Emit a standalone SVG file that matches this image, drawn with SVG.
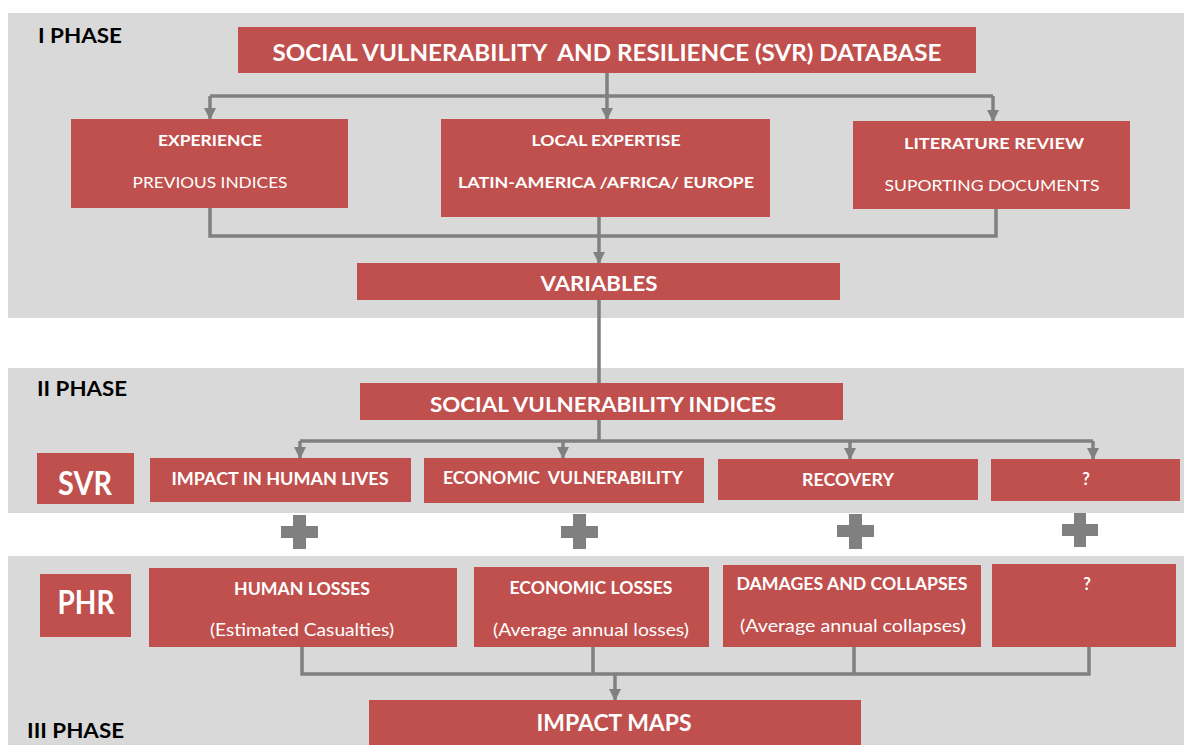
<svg xmlns="http://www.w3.org/2000/svg" width="1184" height="745" viewBox="0 0 1184 745">
<style>
.band{fill:#d9d9d9}
.box{fill:#c0504d}
.t{font-family:Lato,"Open Sans","Liberation Sans",sans-serif;fill:#ffffff;text-anchor:middle;white-space:pre}
.b{font-weight:bold}
.ph{font-family:Lato,"Open Sans","Liberation Sans",sans-serif;font-weight:bold;fill:#000000;font-size:21px}
.c{fill:none;stroke:#808080;stroke-width:3.5}
.plus{fill:#808080}
</style>
<defs>
<marker id="ad" markerUnits="userSpaceOnUse" markerWidth="12" markerHeight="12" viewBox="0 0 12 12" refX="11" refY="6" orient="auto">
<path d="M0,0 L12,6 L0,12 Z" fill="#808080"/>
</marker>
</defs>
<rect class="band" x="8" y="13" width="1176" height="305"/>
<rect class="band" x="8" y="368" width="1176" height="145"/>
<rect class="band" x="8" y="556" width="1176" height="189"/>
<text class="ph" x="38" y="43" textLength="84" lengthAdjust="spacingAndGlyphs">I PHASE</text>
<text class="ph" x="37" y="396" textLength="90" lengthAdjust="spacingAndGlyphs">II PHASE</text>
<text class="ph" x="27" y="738" textLength="97" lengthAdjust="spacingAndGlyphs">III PHASE</text>
<g id="connectors">
<path class="c" d="M607,73 V96 M210,96 H993"/>
<path class="c" d="M210,96 V119" marker-end="url(#ad)"/>
<path class="c" d="M607,96 V119" marker-end="url(#ad)"/>
<path class="c" d="M993,96 V121" marker-end="url(#ad)"/>
<path class="c" d="M210,208 V236 H996 V209"/>
<path class="c" d="M599,217 V263" marker-end="url(#ad)"/>
<path class="c" d="M599,300 V441 M300,441 H1093"/>
<path class="c" d="M300,441 V458" marker-end="url(#ad)"/>
<path class="c" d="M563,441 V458" marker-end="url(#ad)"/>
<path class="c" d="M850,441 V459" marker-end="url(#ad)"/>
<path class="c" d="M1093,441 V459" marker-end="url(#ad)"/>
<path class="c" d="M302,647 V674 H1089 V647 M593,647 V674 M854,647 V674"/>
<path class="c" d="M615,674 V700" marker-end="url(#ad)"/>
</g>
<g id="n-title"><rect class="box" x="238" y="27" width="738" height="46"/><text class="t b" x="607" y="61" font-size="23" textLength="669" lengthAdjust="spacingAndGlyphs" xml:space="preserve">SOCIAL VULNERABILITY  AND RESILIENCE (SVR) DATABASE</text></g>
<g id="n-experience"><rect class="box" x="71" y="119" width="277" height="89"/><text class="t b" x="210" y="146" font-size="16" textLength="104" lengthAdjust="spacingAndGlyphs">EXPERIENCE</text><text class="t" x="210" y="188" font-size="16" textLength="155" lengthAdjust="spacingAndGlyphs">PREVIOUS INDICES</text></g>
<g id="n-local"><rect class="box" x="441" y="119" width="329" height="98"/><text class="t b" x="606" y="146" font-size="16" textLength="149" lengthAdjust="spacingAndGlyphs">LOCAL EXPERTISE</text><text class="t b" x="606" y="188" font-size="16" textLength="296" lengthAdjust="spacingAndGlyphs">LATIN-AMERICA /AFRICA/ EUROPE</text></g>
<g id="n-literature"><rect class="box" x="853" y="121" width="277" height="88"/><text class="t b" x="994" y="149" font-size="16" textLength="180" lengthAdjust="spacingAndGlyphs">LITERATURE REVIEW</text><text class="t" x="992" y="191" font-size="16" textLength="215" lengthAdjust="spacingAndGlyphs">SUPORTING DOCUMENTS</text></g>
<g id="n-variables"><rect class="box" x="357" y="263" width="483" height="37"/><text class="t b" x="599" y="291" font-size="21" textLength="117" lengthAdjust="spacingAndGlyphs">VARIABLES</text></g>
<g id="n-svi"><rect class="box" x="360" y="383" width="483" height="37"/><text class="t b" x="603" y="412" font-size="21" textLength="346" lengthAdjust="spacingAndGlyphs">SOCIAL VULNERABILITY INDICES</text></g>
<g id="n-svr"><rect class="box" x="37" y="453" width="97" height="51"/><text class="t b" x="85" y="495" font-size="32" textLength="54" lengthAdjust="spacingAndGlyphs">SVR</text></g>
<g id="n-impact-lives"><rect class="box" x="150" y="458" width="261" height="44"/><text class="t b" x="280" y="485" font-size="16.5" textLength="217" lengthAdjust="spacingAndGlyphs">IMPACT IN HUMAN LIVES</text></g>
<g id="n-econ-vuln"><rect class="box" x="424" y="458" width="280" height="45"/><text class="t b" x="563" y="484" font-size="16.5" textLength="240" lengthAdjust="spacingAndGlyphs" xml:space="preserve">ECONOMIC  VULNERABILITY</text></g>
<g id="n-recovery"><rect class="box" x="718" y="459" width="260" height="41"/><text class="t b" x="848" y="486" font-size="16.5" textLength="92" lengthAdjust="spacingAndGlyphs">RECOVERY</text></g>
<g id="n-q1"><rect class="box" x="991" y="459" width="189" height="42"/><text class="t b" x="1086" y="485" font-size="16.5">?</text></g>
<g id="plus">
<rect class="plus" x="281" y="526" width="37" height="12"/><rect class="plus" x="293" y="515" width="13" height="34"/>
<rect class="plus" x="561" y="526" width="37" height="12"/><rect class="plus" x="573" y="514" width="13" height="35"/>
<rect class="plus" x="837" y="525" width="37" height="12"/><rect class="plus" x="849" y="514" width="13" height="35"/>
<rect class="plus" x="1062" y="524" width="36" height="12"/><rect class="plus" x="1074" y="513" width="12" height="34"/>
</g>
<g id="n-phr"><rect class="box" x="40" y="574" width="91" height="63"/><text class="t b" x="86" y="614" font-size="32" textLength="57" lengthAdjust="spacingAndGlyphs">PHR</text></g>
<g id="n-human-losses"><rect class="box" x="149" y="568" width="308" height="79"/><text class="t b" x="302" y="595" font-size="16.5" textLength="136" lengthAdjust="spacingAndGlyphs">HUMAN LOSSES</text><text class="t" x="302" y="636" font-size="17" textLength="184" lengthAdjust="spacingAndGlyphs">(Estimated Casualties)</text></g>
<g id="n-econ-losses"><rect class="box" x="474" y="567" width="235" height="80"/><text class="t b" x="591" y="594" font-size="16.5" textLength="163" lengthAdjust="spacingAndGlyphs">ECONOMIC LOSSES</text><text class="t" x="591" y="636" font-size="17" textLength="196" lengthAdjust="spacingAndGlyphs">(Average annual losses)</text></g>
<g id="n-damages"><rect class="box" x="723" y="565" width="258" height="82"/><text class="t b" x="852" y="590" font-size="16.5" textLength="231" lengthAdjust="spacingAndGlyphs">DAMAGES AND COLLAPSES</text><text class="t" x="853" y="632" font-size="17" textLength="226" lengthAdjust="spacingAndGlyphs">(Average annual collapses<tspan font-weight="bold">)</tspan></text></g>
<g id="n-q2"><rect class="box" x="992" y="564" width="184" height="83"/><text class="t b" x="1087" y="590" font-size="16.5">?</text></g>
<g id="n-impact-maps"><rect class="box" x="369" y="700" width="492" height="50"/><text class="t b" x="614" y="731" font-size="22" textLength="155" lengthAdjust="spacingAndGlyphs">IMPACT MAPS</text></g>
</svg>
